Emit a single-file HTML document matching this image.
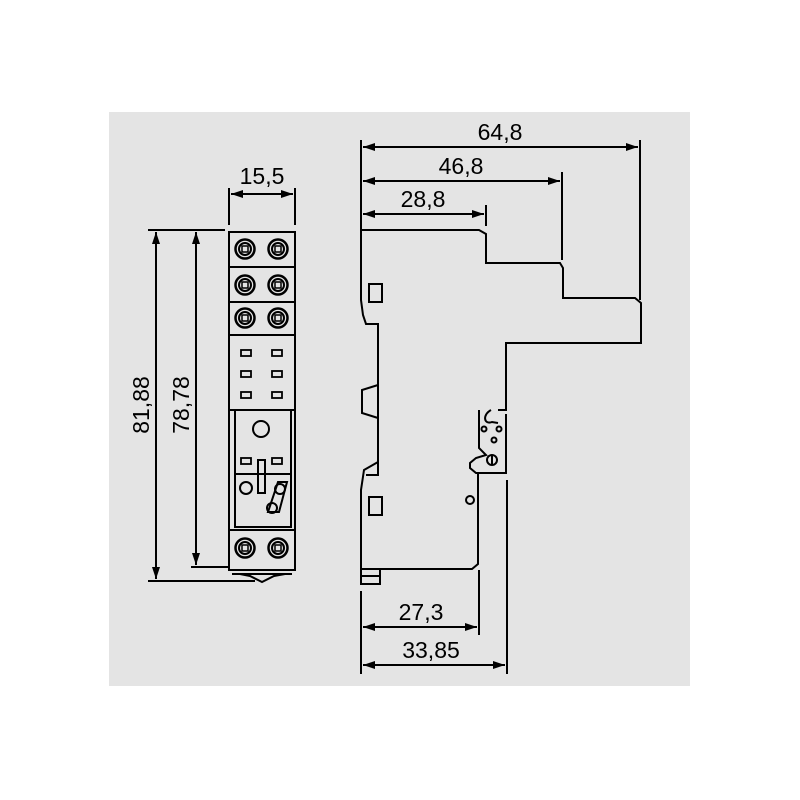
<!DOCTYPE html>
<html><head><style>
html,body{margin:0;padding:0;background:#fff;}
svg{display:block;}
text{font-family:"Liberation Sans",sans-serif;font-size:23px;fill:#000;}
</style></head><body>
<svg width="800" height="800" viewBox="0 0 800 800" xmlns="http://www.w3.org/2000/svg">
<defs>
<marker id="a" viewBox="0 0 12 8" refX="12" refY="4" markerWidth="12" markerHeight="8" markerUnits="userSpaceOnUse" orient="auto-start-reverse"><path d="M0,0 L12,4 L0,8z" fill="#000"/></marker>
<g id="term"><circle r="9.5" fill="none" stroke="#000" stroke-width="2.5"/><circle r="6" fill="none" stroke="#000" stroke-width="2"/><rect x="-3" y="-3" width="6" height="6" fill="none" stroke="#000" stroke-width="1.5"/></g>
</defs>
<rect x="109" y="112" width="581" height="574" fill="#e4e4e4"/>
<g stroke="#000" stroke-width="2" fill="none">
<line x1="148" y1="230" x2="225" y2="230"/>
<line x1="148" y1="581" x2="255" y2="581"/>
<line x1="191" y1="567" x2="230" y2="567"/>
<line x1="156" y1="232" x2="156" y2="579" marker-start="url(#a)" marker-end="url(#a)"/>
<line x1="196" y1="232" x2="196" y2="565" marker-start="url(#a)" marker-end="url(#a)"/>
<line x1="229" y1="188" x2="229" y2="225"/>
<line x1="295" y1="188" x2="295" y2="225"/>
<line x1="231" y1="194" x2="293" y2="194" marker-start="url(#a)" marker-end="url(#a)"/>
<rect x="229" y="232" width="66" height="338"/>
<line x1="229" y1="267" x2="295" y2="267"/>
<line x1="229" y1="302" x2="295" y2="302"/>
<line x1="229" y1="335" x2="295" y2="335"/>
<line x1="229" y1="410" x2="295" y2="410"/>
<line x1="229" y1="530" x2="295" y2="530"/>
<rect x="235" y="410" width="56" height="117"/>
<line x1="235" y1="474" x2="291" y2="474"/>
<circle cx="261" cy="429" r="8"/>
<rect x="258" y="460" width="7" height="33"/>
<g stroke-width="1.8">
<rect x="241" y="350" width="10" height="6"/><rect x="272" y="350" width="10" height="6"/>
<rect x="241" y="371" width="10" height="6"/><rect x="272" y="371" width="10" height="6"/>
<rect x="241" y="392" width="10" height="6"/><rect x="272" y="392" width="10" height="6"/>
<rect x="241" y="458" width="10" height="6"/><rect x="272" y="458" width="10" height="6"/>
</g>
<circle cx="246" cy="488" r="6"/>
<path d="M268,512 L278,482 L287,482 L279,512z"/>
<circle cx="280" cy="489" r="5"/><circle cx="272" cy="508" r="5"/>
<path d="M240,574 L250,576 L262,582 L274,576 L285,574"/>
<line x1="232" y1="574" x2="292" y2="574"/>
</g>
<use href="#term" x="245" y="249"/><use href="#term" x="278" y="249"/>
<use href="#term" x="245" y="285"/><use href="#term" x="278" y="285"/>
<use href="#term" x="245" y="318"/><use href="#term" x="278" y="318"/>
<use href="#term" x="245" y="548"/><use href="#term" x="278" y="548"/>
<g stroke="#000" stroke-width="2" fill="none">
<path d="M361,230 L479,230 L486,234 L486,263 L560,263 L563,268 L563,298 L635,298 L641,303 L641,343 L506,343 L506,410 L498,410"/>
<path d="M479,410 L479,448 L486,455 L476,458 L470,463 L470,468 L476,473 L506,473 L506,414"/>
<path d="M491,410 C482,415 484,425 492,422 L498,423"/>
<circle cx="484" cy="429" r="2.5"/><circle cx="499" cy="429" r="2.5"/><circle cx="494" cy="440" r="2.5"/>
<circle cx="492" cy="460" r="5"/><line x1="492" y1="455" x2="492" y2="465"/>
<path d="M478,473 L478,564 L472,569 L361,569 L361,490 L364,470 L378,462"/>
<path d="M361,230 L361,300 L363,315 L366,324 L378,324 L378,475 L366,475"/>
<path d="M378,385 L362,390 L362,413 L378,418"/>
<rect x="369" y="284" width="13" height="18"/>
<rect x="369" y="497" width="13" height="18"/>
<rect x="361" y="569" width="19" height="15"/><line x1="361" y1="576" x2="380" y2="576"/>
<circle cx="470" cy="500" r="4"/>
<line x1="361" y1="140" x2="361" y2="230"/>
<line x1="486" y1="205" x2="486" y2="226"/>
<line x1="562" y1="172" x2="562" y2="260"/>
<line x1="640" y1="140" x2="640" y2="300"/>
<line x1="363" y1="147" x2="638" y2="147" marker-start="url(#a)" marker-end="url(#a)"/>
<line x1="363" y1="181" x2="560" y2="181" marker-start="url(#a)" marker-end="url(#a)"/>
<line x1="363" y1="214" x2="484" y2="214" marker-start="url(#a)" marker-end="url(#a)"/>
<line x1="361" y1="591" x2="361" y2="674"/>
<line x1="479" y1="570" x2="479" y2="635"/>
<line x1="507" y1="480" x2="507" y2="674"/>
<line x1="363" y1="627" x2="477" y2="627" marker-start="url(#a)" marker-end="url(#a)"/>
<line x1="363" y1="665" x2="505" y2="665" marker-start="url(#a)" marker-end="url(#a)"/>
</g>
<text x="262" y="184" text-anchor="middle">15,5</text>
<text x="500" y="140" text-anchor="middle">64,8</text>
<text x="461" y="174" text-anchor="middle">46,8</text>
<text x="423" y="207" text-anchor="middle">28,8</text>
<text x="421" y="620" text-anchor="middle">27,3</text>
<text x="431" y="658" text-anchor="middle">33,85</text>
<text transform="translate(149,405) rotate(-90)" text-anchor="middle">81,88</text>
<text transform="translate(189,405) rotate(-90)" text-anchor="middle">78,78</text>
</svg>
</body></html>
